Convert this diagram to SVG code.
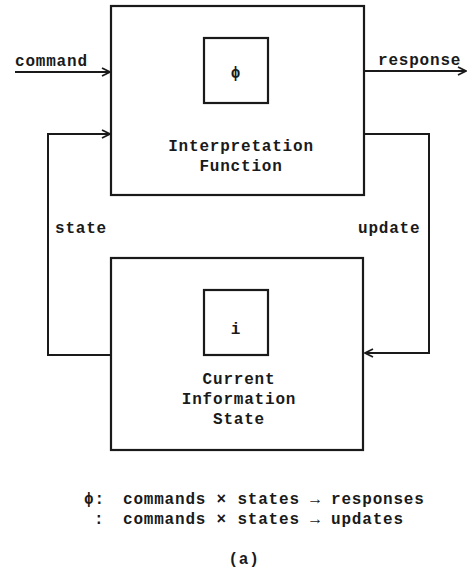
<svg xmlns="http://www.w3.org/2000/svg" width="468" height="569" viewBox="0 0 468 569">
<style>
  .box{fill:none;stroke:#1a1a1a;stroke-width:2.2}
  .ln{fill:none;stroke:#1a1a1a;stroke-width:2}
  .t{font-family:"Liberation Mono","Courier New",monospace;font-weight:bold;font-size:16px;fill:#1a1a1a;letter-spacing:0.8px}
  .c{text-anchor:middle}
</style>
<defs>
  <marker id="ah" viewBox="0 0 10 10" refX="9" refY="5" markerWidth="10" markerHeight="10" markerUnits="userSpaceOnUse" orient="auto">
    <path d="M1,1 L9,5 L1,9" fill="none" stroke="#1a1a1a" stroke-width="1.8"/>
  </marker>
</defs>
<rect width="468" height="569" fill="#ffffff"/>
<g id="interpretation-function">
  <rect class="box" x="111" y="6" width="253" height="189"/>
  <rect class="box" x="204" y="38" width="64" height="65"/>
  <text class="t c" x="236" y="78">ϕ</text>
  <text class="t c" x="241" y="151">Interpretation</text>
  <text class="t c" x="241" y="171">Function</text>
</g>
<g id="current-information-state">
  <rect class="box" x="111" y="258" width="252" height="192"/>
  <rect class="box" x="204" y="290" width="64" height="65"/>
  <text class="t c" x="236" y="334">i</text>
  <text class="t c" x="239" y="384">Current</text>
  <text class="t c" x="239" y="404">Information</text>
  <text class="t c" x="239" y="424">State</text>
</g>
<g id="connectors">
  <path class="ln" d="M15,72 H110" marker-end="url(#ah)"/>
  <path class="ln" d="M364,71 H466" marker-end="url(#ah)"/>
  <path class="ln" d="M111,355 H48 V134 H110" marker-end="url(#ah)"/>
  <path class="ln" d="M364,134 H429 V353 H365" marker-end="url(#ah)"/>
</g>
<g id="labels">
  <text class="t" x="15" y="66">command</text>
  <text class="t" x="378" y="65">response</text>
  <text class="t" x="55" y="233">state</text>
  <text class="t" x="358" y="233">update</text>
</g>
<g id="legend">
  <text class="t" x="84" y="504">ϕ:</text>
  <text class="t" x="123" y="504">commands × states → responses</text>
  <text class="t" x="94" y="524">:</text>
  <text class="t" x="123" y="524">commands × states → updates</text>
  <text class="t c" x="244" y="564">(a)</text>
</g>
</svg>
